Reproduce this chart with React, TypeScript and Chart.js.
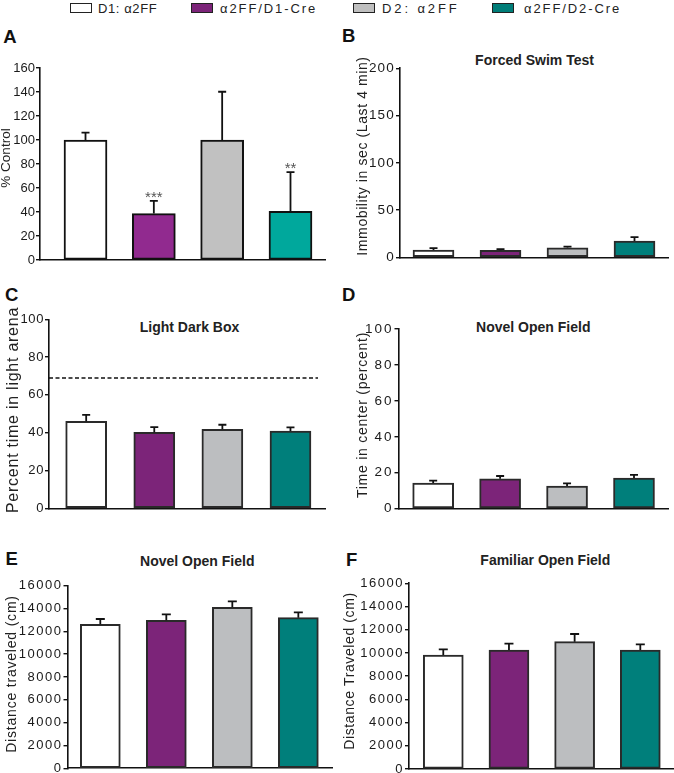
import React, { useEffect, useRef } from "react";
import { Chart, registerables } from "chart.js";

Chart.register(...registerables);

const FONT = '"Liberation Sans", Arial, Helvetica, sans-serif';

// ---- shared groups ----
const groupLabels = ["D1: α2FF", "α2FF/D1-Cre", "D2: α2FF", "α2FF/D2-Cre"];
const groupColorsA = ["#ffffff", "#912a8f", "#c1c1c1", "#00a89c"];
const groupColors = ["#ffffff", "#7c2479", "#bcbec0", "#007f7b"];

// ---- A: % Control ----
const aMeans = [100, 38.7, 100, 40.6];
const aSem = [6.2, 10.6, 40.2, 32.6];
const aStars = ["", "***", "", "**"];
const aYMax = 160;
const aYStep = 20;

// ---- B: Forced Swim Test ----
const bMeans = [7.6, 7.4, 10, 17.2];
const bSem = [2.2, 1.3, 1.2, 4.2];
const bYMax = 200;
const bYStep = 50;

// ---- C: Light Dark Box ----
const cMeans = [46, 40.2, 41.8, 40.9];
const cSem = [3.4, 2.8, 2.4, 1.9];
const cReference = 69;
const cYMax = 100;
const cYStep = 20;

// ---- D: Novel Open Field (center time) ----
const dMeans = [14.3, 16.6, 12.6, 17.1];
const dSem = [1.3, 1.6, 1.5, 1.7];
const dYMax = 100;
const dYStep = 20;

// ---- E: Novel Open Field (distance) ----
const eMeans = [12620, 12970, 14110, 13200];
const eSem = [460, 520, 520, 470];
const eYMax = 16000;
const eYStep = 2000;

// ---- F: Familiar Open Field (distance) ----
const fMeans = [9820, 10250, 10970, 10250];
const fSem = [490, 550, 660, 490];
const fYMax = 16000;
const fYStep = 2000;

type Box = { x: number; y: number; w: number; h: number };
type Area = { left: number; top: number; right: number; bottom: number };
type PanelCfg = {
  id: string;
  means: number[];
  sem: number[];
  colors: string[];
  yMax: number;
  yStep: number;
  area: Area;
  canvas: Box;
  xMin: number;
  xMax: number;
  barWidth: number;
  edge: string;
  edgeWidth: number;
  tickSize: number;
  tickSpacing: number;
  tickPad: number;
  yTitle: string;
  yTitleSize: number;
  yTitleSpacing: number;
  yTitleX: number;
  yTitleY: number;
  capW: number;
  stars?: string[];
  refLine?: { value: number; endX: number };
};

const panels: PanelCfg[] = [
  {
    id: "A", means: aMeans, sem: aSem, colors: groupColorsA, yMax: aYMax, yStep: aYStep,
    area: { left: 40, top: 68, right: 325, bottom: 260 },
    canvas: { x: 0, y: 50, w: 337, h: 220 },
    xMin: 0.334, xMax: 4.505, barWidth: 43, edge: "#111", edgeWidth: 2,
    tickSize: 13, tickSpacing: 0, tickPad: 1,
    yTitle: "% Control", yTitleSize: 13.5, yTitleSpacing: 0, yTitleX: 6, yTitleY: 158,
    capW: 8, stars: aStars,
  },
  {
    id: "B", means: bMeans, sem: bSem, colors: groupColors, yMax: bYMax, yStep: bYStep,
    area: { left: 400, top: 68.3, right: 668, bottom: 257.3 },
    canvas: { x: 337, y: 50, w: 337, h: 220 },
    xMin: 0.5, xMax: 4.5, barWidth: 41, edge: "#2a2a2a", edgeWidth: 2,
    tickSize: 13.5, tickSpacing: 1.2, tickPad: 1,
    yTitle: "Immobility in sec (Last 4 min)", yTitleSize: 14, yTitleSpacing: 0.6, yTitleX: 363.5, yTitleY: 156,
    capW: 8,
  },
  {
    id: "C", means: cMeans, sem: cSem, colors: groupColors, yMax: cYMax, yStep: cYStep,
    area: { left: 49, top: 319.3, right: 325, bottom: 508.3 },
    canvas: { x: 0, y: 300, w: 337, h: 220 },
    xMin: 0.454, xMax: 4.507, barWidth: 41, edge: "#2a2a2a", edgeWidth: 2,
    tickSize: 13, tickSpacing: 0.6, tickPad: 1,
    yTitle: "Percent time in light arena", yTitleSize: 16, yTitleSpacing: 0.75, yTitleX: 13.5, yTitleY: 410,
    capW: 8, refLine: { value: cReference, endX: 318 },
  },
  {
    id: "D", means: dMeans, sem: dSem, colors: groupColors, yMax: dYMax, yStep: dYStep,
    area: { left: 398.5, top: 329, right: 668, bottom: 508.7 },
    canvas: { x: 337, y: 300, w: 337, h: 220 },
    xMin: 0.482, xMax: 4.508, barWidth: 41, edge: "#2a2a2a", edgeWidth: 2,
    tickSize: 13.5, tickSpacing: 2, tickPad: 1,
    yTitle: "Time in center (percent)", yTitleSize: 14, yTitleSpacing: 0.75, yTitleX: 363.5, yTitleY: 415,
    capW: 8,
  },
  {
    id: "E", means: eMeans, sem: eSem, colors: groupColors, yMax: eYMax, yStep: eYStep,
    area: { left: 67.5, top: 585.7, right: 332, bottom: 768.3 },
    canvas: { x: 0, y: 570, w: 337, h: 203 },
    xMin: 0.503, xMax: 4.51, barWidth: 40, edge: "#2a2a2a", edgeWidth: 2,
    tickSize: 13, tickSpacing: 1.5, tickPad: 1,
    yTitle: "Distance traveled (cm)", yTitleSize: 14, yTitleSpacing: 0.8, yTitleX: 12, yTitleY: 674,
    capW: 9,
  },
  {
    id: "F", means: fMeans, sem: fSem, colors: groupColors, yMax: fYMax, yStep: fYStep,
    area: { left: 409, top: 583.3, right: 674, bottom: 769 },
    canvas: { x: 337, y: 570, w: 337, h: 203 },
    xMin: 0.478, xMax: 4.513, barWidth: 40, edge: "#2a2a2a", edgeWidth: 2,
    tickSize: 13, tickSpacing: 1.5, tickPad: 1,
    yTitle: "Distance Traveled (cm)", yTitleSize: 14, yTitleSpacing: 0.6, yTitleX: 350.5, yTitleY: 671,
    capW: 9,
  },
];

function Panel({ cfg }: { cfg: PanelCfg }) {
  const ref = useRef<HTMLCanvasElement>(null);
  useEffect(() => {
    const canvas = ref.current;
    if (!canvas) return;
    const c = cfg.canvas;
    const a = cfg.area;
    const extras = {
      id: "extras" + cfg.id,
      beforeDraw(chart: any) {
        chart.ctx.letterSpacing = cfg.tickSpacing + "px";
      },
      afterDatasetsDraw(chart: any) {
        const ctx = chart.ctx;
        const xs = chart.scales.x;
        const ys = chart.scales.y;
        ctx.save();
        ctx.strokeStyle = "#111";
        ctx.lineWidth = 1.8;
        cfg.means.forEach((m, i) => {
          const px = xs.getPixelForValue(i + 1);
          const yTop = ys.getPixelForValue(m);
          const yErr = ys.getPixelForValue(m + cfg.sem[i]);
          ctx.beginPath();
          ctx.moveTo(px, yTop);
          ctx.lineTo(px, yErr);
          ctx.moveTo(px - cfg.capW / 2, yErr);
          ctx.lineTo(px + cfg.capW / 2, yErr);
          ctx.stroke();
          if (cfg.stars && cfg.stars[i]) {
            ctx.letterSpacing = "0px";
            ctx.fillStyle = "#555";
            ctx.font = `15px ${FONT}`;
            ctx.textAlign = "center";
            ctx.textBaseline = "alphabetic";
            ctx.fillText(cfg.stars[i], px, yErr + 1);
          }
        });
        if (cfg.refLine) {
          const y = ys.getPixelForValue(cfg.refLine.value);
          ctx.setLineDash([4, 2.5]);
          ctx.lineWidth = 1.5;
          ctx.beginPath();
          ctx.moveTo(chart.chartArea.left, y);
          ctx.lineTo(cfg.refLine.endX - c.x, y);
          ctx.stroke();
          ctx.setLineDash([]);
        }
        ctx.restore();
      },
      afterDraw(chart: any) {
        const ctx = chart.ctx;
        ctx.save();
        ctx.translate(cfg.yTitleX - c.x, cfg.yTitleY - c.y);
        ctx.rotate(-Math.PI / 2);
        ctx.letterSpacing = cfg.yTitleSpacing + "px";
        ctx.font = `${cfg.yTitleSize}px ${FONT}`;
        ctx.fillStyle = "#222";
        ctx.textAlign = "center";
        ctx.textBaseline = "middle";
        ctx.fillText(cfg.yTitle, 0, 0);
        ctx.restore();
      },
    };
    const chart = new Chart(canvas, {
      type: "bar",
      data: {
        datasets: [
          {
            label: cfg.id,
            data: cfg.means.map((m, i) => ({ x: i + 1, y: m })),
            backgroundColor: cfg.colors,
            borderColor: cfg.edge,
            borderWidth: cfg.edgeWidth,
            borderSkipped: false,
            barThickness: cfg.barWidth,
          } as any,
        ],
      },
      options: {
        responsive: false,
        animation: false,
        devicePixelRatio: 1,
        events: [],
        layout: {
          padding: {
            left: 0,
            top: a.top - c.y,
            right: c.x + c.w - a.right,
            bottom: c.y + c.h - a.bottom,
          },
        },
        plugins: {
          legend: { display: false },
          tooltip: { enabled: false },
          title: { display: false },
        },
        scales: {
          x: {
            type: "linear",
            offset: false,
            min: cfg.xMin,
            max: cfg.xMax,
            ticks: { display: false, stepSize: 1, includeBounds: false },
            grid: { display: false, drawTicks: false, offset: false },
            border: { display: true, color: "#111", width: 1.6 },
            afterFit: (s: any) => {
              s.height = 0;
            },
          },
          y: {
            type: "linear",
            min: 0,
            max: cfg.yMax,
            ticks: {
              stepSize: cfg.yStep,
              color: "#1a1a1a",
              padding: cfg.tickPad,
              font: { family: FONT, size: cfg.tickSize },
              callback: (v: any) => String(v),
            },
            grid: {
              display: true,
              drawOnChartArea: false,
              drawTicks: true,
              tickLength: 4,
              color: "#111",
              lineWidth: 1.4,
            },
            border: { display: true, color: "#111", width: 1.6 },
            afterFit: (s: any) => {
              s.width = a.left - c.x;
              s.paddingTop = 0;
              s.paddingBottom = 0;
            },
          },
        },
      } as any,
      plugins: [extras],
    });
    return () => chart.destroy();
  }, [cfg]);
  return (
    <canvas
      ref={ref}
      width={cfg.canvas.w}
      height={cfg.canvas.h}
      style={{
        position: "absolute",
        left: cfg.canvas.x,
        top: cfg.canvas.y,
        width: cfg.canvas.w,
        height: cfg.canvas.h,
      }}
    />
  );
}

const legendBoxX = [70, 190.5, 352.5, 492];
const legendTextX = [98, 220, 382, 524];
const legendSpacing = [0.6, 1.9, 2.9, 1.9];
const legendColors = ["#ffffff", "#7c2479", "#bfbfbf", "#007d78"];

const letters = [
  { t: "A", x: 3.3, y: 30 },
  { t: "B", x: 342, y: 29 },
  { t: "C", x: 5, y: 288 },
  { t: "D", x: 342, y: 288 },
  { t: "E", x: 5.5, y: 551.7 },
  { t: "F", x: 346, y: 553 },
];

const titles = [
  { t: "Forced Swim Test", cx: 534.5, y: 54.3 },
  { t: "Light Dark Box", cx: 189.5, y: 321.7 },
  { t: "Novel Open Field", cx: 533.3, y: 321.7 },
  { t: "Novel Open Field", cx: 197.3, y: 556 },
  { t: "Familiar Open Field", cx: 545.3, y: 555 },
];

export default function App() {
  return (
    <div
      style={{
        position: "absolute",
        left: 0,
        top: 0,
        width: 674,
        height: 773,
        overflow: "hidden",
        background: "#fff",
        fontFamily: FONT,
        color: "#222",
      }}
    >
      {groupLabels.map((g, i) => (
        <React.Fragment key={g}>
          <div
            style={{
              position: "absolute",
              left: legendBoxX[i],
              top: 3,
              width: 22,
              height: 10,
              boxSizing: "border-box",
              border: "1.5px solid #222",
              background: legendColors[i],
            }}
          />
          <div
            style={{
              position: "absolute",
              left: legendTextX[i],
              top: 0.5,
              fontSize: 13,
              lineHeight: "15px",
              letterSpacing: legendSpacing[i],
              whiteSpace: "nowrap",
            }}
          >
            {g}
          </div>
        </React.Fragment>
      ))}
      {letters.map((l) => (
        <div
          key={l.t}
          style={{
            position: "absolute",
            left: l.x,
            top: l.y - 3.2,
            fontSize: 18.5,
            lineHeight: "20px",
            fontWeight: "bold",
            color: "#111",
          }}
        >
          {l.t}
        </div>
      ))}
      {titles.map((t, i) => (
        <div
          key={i}
          style={{
            position: "absolute",
            left: t.cx - 150,
            width: 300,
            top: t.y - 2.8,
            textAlign: "center",
            fontSize: 14,
            lineHeight: "16px",
            fontWeight: "bold",
            whiteSpace: "nowrap",
          }}
        >
          {t.t}
        </div>
      ))}
      {panels.map((p) => (
        <Panel key={p.id} cfg={p} />
      ))}
    </div>
  );
}
